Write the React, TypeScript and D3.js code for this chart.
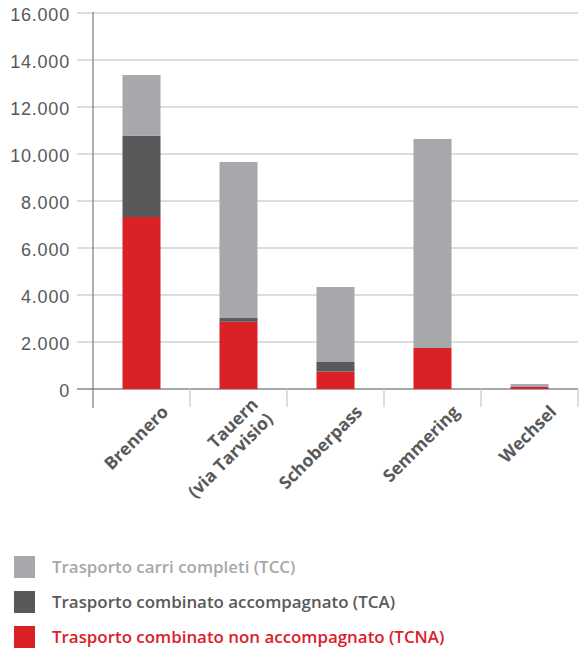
import * as d3 from "d3";

const categories = ["Brennero", "Tauern\n(via Tarvisio)", "Schoberpass", "Semmering", "Wechsel"];
const tcna = [7320, 2860, 740, 1745, 85];
const tca = [3450, 160, 410, 0, 0];
const tcc = [2590, 6640, 3190, 8895, 125];
const yTicks = [0, 2000, 4000, 6000, 8000, 10000, 12000, 14000, 16000];

const seriesKeys = ["tcna", "tca", "tcc"];
const seriesColors: Record<string, string> = {
  tcna: "#da2128",
  tca: "#58595b",
  tcc: "#a7a8ab",
};
const legendItems = [
  { key: "tcc", label: "Trasporto carri completi (TCC)", color: "#a7a8ab" },
  { key: "tca", label: "Trasporto combinato accompagnato (TCA)", color: "#58595b" },
  { key: "tcna", label: "Trasporto combinato non accompagnato (TCNA)", color: "#da2128" },
];

const width = 580;
const height = 652;

export default function App() {
  const rows = categories.map((c, i) => ({
    cat: c,
    tcna: tcna[i],
    tca: tca[i],
    tcc: tcc[i],
  }));

  const x = d3
    .scaleBand<string>()
    .domain(categories)
    .range([93, 578])
    .paddingInner(0.608)
    .paddingOuter(0.304);

  const y = d3.scaleLinear().domain([0, 16000]).range([389, 13]);

  const stacked = d3.stack<any>().keys(seriesKeys)(rows);
  const fmt = (v: number) => (v === 0 ? "0" : d3.format(",")(v).replace(/,/g, "."));

  const step = x.step();
  const gridLeft = 77;
  const gridRight = 578;

  return (
    <svg
      width={width}
      height={height}
      style={{ position: "absolute", left: 0, top: 0, background: "#fff" }}
    >
      {/* grid */}
      <g>
        {yTicks.map((t) => (
          <line
            key={t}
            x1={gridLeft}
            x2={gridRight}
            y1={y(t)}
            y2={y(t)}
            stroke={t === 0 ? "#8a8a8c" : "#d2d2d4"}
            strokeWidth={1.5}
          />
        ))}
      </g>
      {/* y labels */}
      <g
        fontFamily="'Liberation Sans', Arial, sans-serif"
        fontSize={18}
        letterSpacing={0.8}
        fill="#58595b"
        textAnchor="end"
      >
        {yTicks.map((t) => (
          <text key={t} x={70} y={y(t)} dy="0.44em">
            {fmt(t)}
          </text>
        ))}
      </g>
      {/* category separators */}
      <g>
        {categories.map((c, i) => {
          const xe = 93 + step * (i + 1);
          return (
            <line
              key={c}
              x1={xe}
              x2={xe}
              y1={y(0)}
              y2={y(0) + 18}
              stroke="#d2d2d4"
              strokeWidth={1.5}
            />
          );
        })}
      </g>
      {/* bars */}
      <g>
        {stacked.map((s) => (
          <g key={s.key} fill={seriesColors[s.key]}>
            {s.map((d, i) => (
              <rect
                key={i}
                x={x(categories[i])}
                width={x.bandwidth()}
                y={y(d[1])}
                height={Math.max(0, y(d[0]) - y(d[1]))}
              />
            ))}
          </g>
        ))}
      </g>
      {/* y axis line */}
      <line x1={93} x2={93} y1={12} y2={408} stroke="#7a7a7c" strokeWidth={1.2} />
      {/* x labels */}
      <g
        fontFamily="'Open Sans', sans-serif"
        fontWeight={700}
        fontSize={17.5}
        fill="#58595b"
        textAnchor="end"
      >
        {categories.map((c) => {
          const lines = c.split("\n");
          const cx = (x(c) as number) + x.bandwidth() / 2 + 28;
          const cy = y(0) + 24;
          return (
            <text key={c} transform={`translate(${cx},${cy}) rotate(-45)`}>
              {lines.map((l, j) => (
                <tspan key={j} x={0} y={(j - (lines.length - 1) / 2) * 21}>
                  {l}
                </tspan>
              ))}
            </text>
          );
        })}
      </g>
      {/* legend */}
      <g fontFamily="'Open Sans', sans-serif" fontSize={16.9} fontWeight={600}>
        {legendItems.map((it, i) => {
          const top = 556 + i * 35;
          return (
            <g key={it.key}>
              <rect x={14} y={top} width={21} height={22} fill={it.color} />
              <text x={52} y={top + 11} dy="0.36em" fill={it.color}>
                {it.label}
              </text>
            </g>
          );
        })}
      </g>
    </svg>
  );
}
